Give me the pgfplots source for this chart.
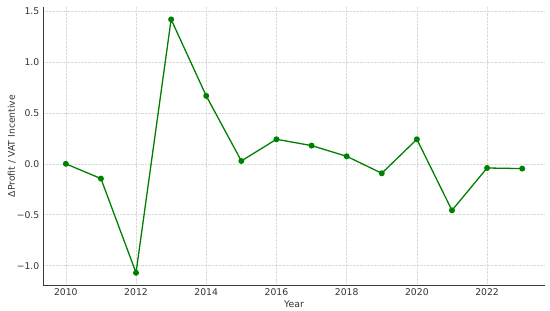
\documentclass[border=0pt]{standalone}
\usepackage{pgfplots}
\pgfplotsset{compat=1.18}
\usepackage{fontspec}
\setmainfont{DejaVu Sans}
\definecolor{mplgreen}{HTML}{008000}
\definecolor{spine}{HTML}{3A3A3A}
\definecolor{ticktext}{HTML}{333333}
\begin{document}
\fontsize{9}{11}\selectfont
\begin{tikzpicture}
\path[use as bounding box] (-43bp,-26bp) rectangle (507bp,285bp);
\begin{axis}[
  at={(0,0)}, anchor=south west,
  scale only axis, width=502bp, height=278bp,
  xmin=2009.35, xmax=2023.65,
  ymin=-1.19, ymax=1.54,
  axis x line*=bottom, axis y line*=left,
  axis line style={spine, line width=0.8pt},
  xtick={2010,2012,...,2022},
  xticklabels={2010,2012,2014,2016,2018,2020,2022},
  ytick={-1,-0.5,0,0.5,1,1.5},
  yticklabels={−1.0,−0.5,0.0,0.5,1.0,1.5},
  major tick length=0pt,
  tick style={draw=none},
  ticklabel style={font=\fontsize{9.3}{11}\selectfont, text=ticktext},
  xticklabel style={yshift=-0.5bp},
  yticklabel style={xshift=-0.5bp},
  grid=major,
  grid style={densely dotted, black!15, line width=0.6pt},
  xlabel={Year}, ylabel={ΔProfit / VAT Incentive},
  label style={font=\fontsize{9.3}{11}\selectfont, text=ticktext},
  xlabel style={yshift=1.5bp},
  ylabel style={yshift=-5bp},
]
\addplot[mplgreen, line width=1.3pt, mark=*, mark size=2.3bp, mark options={fill=mplgreen, draw=mplgreen}]
coordinates {
(2010,0.000) (2011,-0.145) (2012,-1.07) (2013,1.418) (2014,0.667)
(2015,0.028) (2016,0.241) (2017,0.179) (2018,0.074) (2019,-0.093)
(2020,0.241) (2021,-0.457) (2022,-0.041) (2023,-0.047)
};
\end{axis}
\end{tikzpicture}
\end{document}
